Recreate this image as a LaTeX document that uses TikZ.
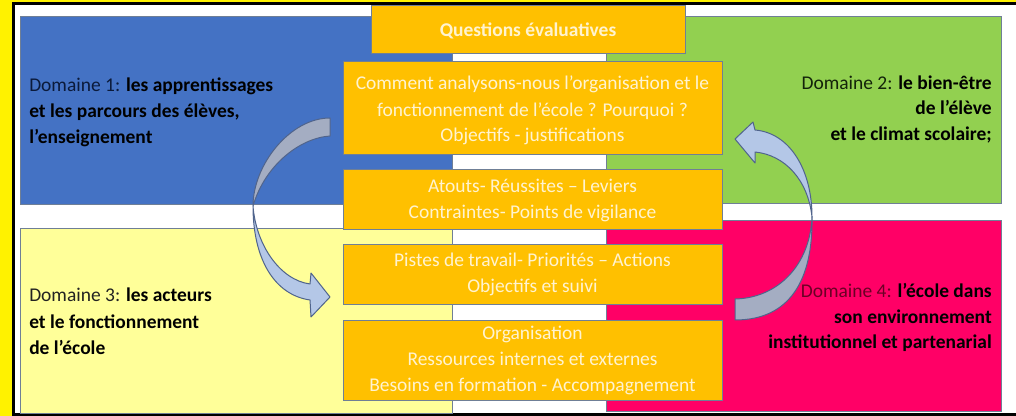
\documentclass[tikz,border=0pt]{standalone}
\usepackage{fontspec}
\setmainfont{Carlito}
\definecolor{qblue}{HTML}{4472C4}
\definecolor{qgreen}{HTML}{92D050}
\definecolor{qyellow}{HTML}{FFFF99}
\definecolor{qpink}{HTML}{FF0066}
\definecolor{qorange}{HTML}{FFC000}
\definecolor{qedge}{HTML}{6F7F96}
\definecolor{otext}{HTML}{FFF3D0}
\definecolor{adark}{HTML}{A4ADC2}
\definecolor{alight}{HTML}{B4C7E7}
\definecolor{aline}{HTML}{50648C}
\definecolor{d1c}{HTML}{0B1A3A}
\definecolor{d2c}{HTML}{13230A}
\definecolor{d3c}{HTML}{222222}
\definecolor{d4c}{HTML}{6B0025}
\tikzset{
  quad/.style={draw=qedge, line width=0.75pt},
  obox/.style={draw=qedge, line width=0.75pt, fill=qorange, inner sep=0pt},
  otxt/.style={anchor=base, inner sep=0pt, text=otext, font=\fontsize{14.6}{17}\selectfont},
  dl/.style={anchor=base west, inner sep=0pt, font=\fontsize{14.6}{17}\selectfont},
  dr/.style={anchor=base east, inner sep=0pt, font=\fontsize{14.6}{17}\selectfont},
  arrdark/.style={fill=adark, draw=aline, line width=0.75pt, line join=round},
  arrlight/.style={fill=alight, draw=aline, line width=0.75pt, line join=round}
}
\begin{document}
\begin{tikzpicture}[x=0.75pt, y=-0.75pt]
\useasboundingbox (0,0) rectangle (1016,416);
% frame
\fill[yellow] (0,0) rectangle (1016,416);
\fill[black] (12,2) rectangle (1016,416);
\fill[white] (15,5) rectangle (1016,413);
% quadrants
\path[quad, fill=qblue] (20,17) rectangle (452,205);
\path[quad, fill=qgreen] (606,17) rectangle (1001,204);
\path[quad, fill=qyellow] (20,229) rectangle (452,413);
\path[quad, fill=qpink] (606,221) rectangle (1001,411);
% orange boxes
\node[obox, minimum width=314*0.75pt, minimum height=48*0.75pt] (q0) at (528,30) {};
\node[obox, minimum width=379*0.75pt, minimum height=93*0.75pt] (q1) at (532.5,108.5) {};
\node[obox, minimum width=379*0.75pt, minimum height=60*0.75pt] (q2) at (532.5,200) {};
\node[obox, minimum width=379*0.75pt, minimum height=60*0.75pt] (q3) at (532.5,275) {};
\node[obox, minimum width=379*0.75pt, minimum height=80*0.75pt] (q4) at (532.5,360) {};
% orange box texts
\node[otxt, font=\fontsize{14.6}{17}\selectfont\bfseries] (t0) at (528,37) {Questions évaluatives};
\node[otxt] (t1a) at (532.5,90) {Comment analysons-nous l’organisation et le};
\node[otxt] (t1b) at (532.5,116.5) {fonctionnement de l’école ? Pourquoi ?};
\node[otxt] (t1c) at (532.5,142) {Objectifs - justifications};
\node[otxt] (t2a) at (532.5,193) {Atouts- Réussites – Leviers};
\node[otxt] (t2b) at (532.5,218.5) {Contraintes- Points de vigilance};
\node[otxt] (t3a) at (532.5,267) {Pistes de travail- Priorités – Actions};
\node[otxt] (t3b) at (532.5,293) {Objectifs et suivi};
\node[otxt] (t4a) at (532.5,339.5) {Organisation};
\node[otxt] (t4b) at (532.5,365) {Ressources internes et externes};
\node[otxt] (t4c) at (532.5,391) {Besoins en formation - Accompagnement};
% domain texts
\node[dl] (d1a) at (29,91.7) {\textcolor{d1c}{Domaine 1:} \textbf{les apprentissages}};
\node[dl] (d1b) at (29,117.3) {\textbf{et les parcours des élèves,}};
\node[dl] (d1c) at (29,143.3) {\textbf{l’enseignement}};
\node[dr] (d2a) at (992,89.5) {\textcolor{d2c}{Domaine 2:} \textbf{le bien-être}};
\node[dr] (d2b) at (992,115) {\textbf{de l’élève}};
\node[dr] (d2c) at (992,140.5) {\textbf{et le climat scolaire;}};
\node[dl] (d3a) at (29,301.7) {\textcolor{d3c}{Domaine 3:} \textbf{les acteurs}};
\node[dl] (d3b) at (29,328.3) {\textbf{et le fonctionnement}};
\node[dl] (d3c) at (29,354) {\textbf{de l’école}};
\node[dr] (d4a) at (992,297) {\textcolor{d4c}{Domaine 4:} \textbf{l’école dans}};
\node[dr] (d4b) at (992,323) {\textbf{son environnement}};
\node[dr] (d4c) at (992,348) {\textbf{institutionnel et partenarial}};
% left curved arrow
\path[arrdark] (330,118) .. controls (290,118) and (253,165) .. (253,206)
  .. controls (265,165) and (300,138) .. (330,136) -- cycle;
\path[arrlight] (253,206) .. controls (253,260) and (275,295) .. (310,300)
  -- (311,317) -- (330,297) -- (311,273) -- (310,284)
  .. controls (280,280) and (256,245) .. (253,206) -- cycle;
% right curved arrow
\path[arrdark] (735,320) .. controls (790,320) and (813,280) .. (812,217)
  .. controls (810,265) and (778,298) .. (735,299) -- cycle;
\path[arrlight] (812,217) .. controls (812,170) and (790,133) .. (755,130)
  -- (753,122) -- (735,139) -- (755,163) -- (755,152)
  .. controls (785,155) and (808,180) .. (812,217) -- cycle;
\end{tikzpicture}
\end{document}
